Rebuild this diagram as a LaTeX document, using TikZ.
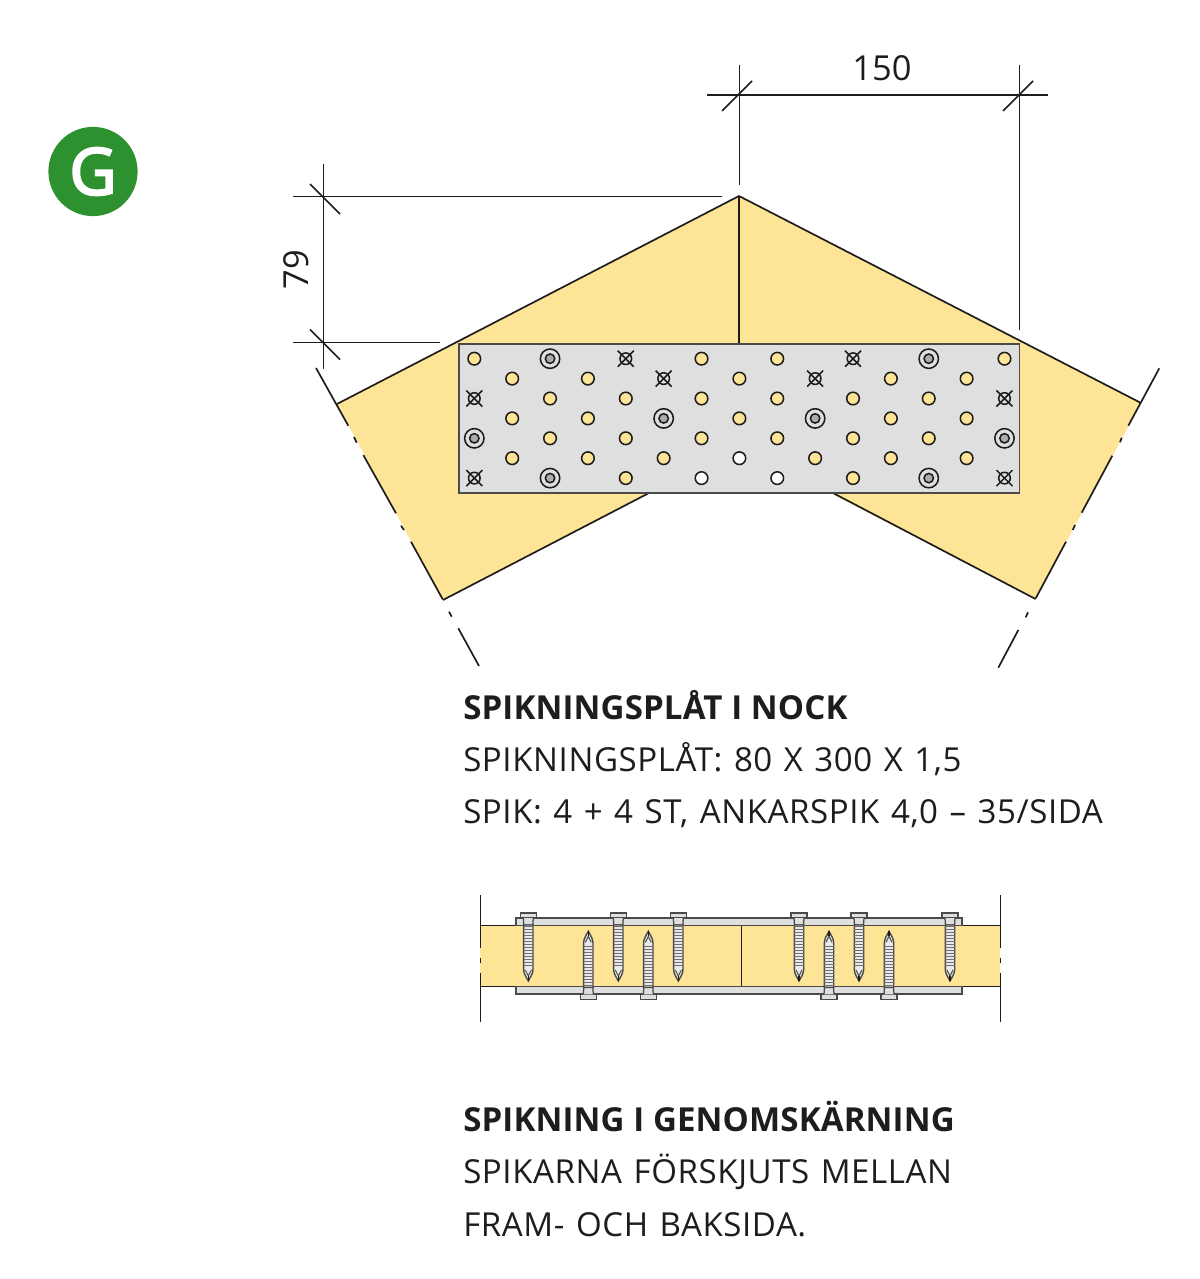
\documentclass[tikz,border=0pt]{standalone}
\usepackage{fontspec}
\usetikzlibrary{calc}
\setmainfont{Open Sans}
\newfontfamily\labelfont[LetterSpace=1.8,WordSpace=1.25]{Open Sans}
\newfontfamily\headfont[LetterSpace=0.4]{Open Sans}
\newfontface\badgefont[FakeBold=3.5]{Open Sans}
\definecolor{woodyellow}{HTML}{FEE497}
\definecolor{platefill}{HTML}{DFDFDF}
\definecolor{darkink}{HTML}{1D1D1B}
\definecolor{platerim}{HTML}{4A4A48}
\definecolor{badgegreen}{HTML}{2E9130}
\tikzset{
    line/.style={draw=darkink,line width=1.2pt},
    holeline/.style={draw=darkink,line width=1.1pt},
    textline/.style={anchor=base west,inner sep=0pt,text=darkink,font=\fontsize{23.5}{28}\labelfont},
    headline/.style={anchor=base west,inner sep=0pt,text=darkink,font=\fontsize{23.5}{28}\headfont\bfseries},
    dimlabel/.style={inner sep=0pt,text=darkink,font=\fontsize{24.5}{28}\selectfont},
    screw/.pic={
        \draw[draw=platerim,fill=platefill,line width=0.9pt] (-8,0) rectangle (8,5);
        \draw[draw=platerim,fill=platefill,line width=0.9pt] (-5,5) -- (-4.5,12) -- (4.5,12) -- (5,5);
        \draw[draw=platerim,fill=platefill!70!white,line width=1pt] (-4.7,12) -- (-4.7,56)
            .. controls (-4.7,61) and (-2,64) .. (0,68) .. controls (2,64) and (4.7,61) .. (4.7,56) -- (4.7,12) -- cycle;
        \foreach \y in {13.5,16.5,...,55}
            \draw[draw=platerim!80!white,line width=0.85pt] (-4.7,\y) -- (4.7,\y);
        \draw[draw=platerim,line width=0.7pt] (-3,57) -- (0,63) -- (3,57);
        \draw[draw=darkink,line width=0.9pt] (0,63) -- (0,68);
    }
}
\newcommand{\holex}[1]{{474.3+37.87*#1}}
\newcommand{\holey}[1]{{358.7+19.9*#1}}

\begin{document}
\begin{tikzpicture}[x=0.025cm,y=-0.025cm]
    \useasboundingbox (0,0) rectangle (1200,1279);

    % badge
    \node[circle,fill=badgegreen,minimum size=2.23cm,inner sep=0pt,text=white,font=\fontsize{46}{46}\badgefont] (badge) at (93,171.5) {G};

    % timber
    \fill[woodyellow] (739,196) -- (337,404) -- (443,600) -- (739,446) -- cycle;
    \fill[woodyellow] (739,196) -- (1141,403) -- (1035.5,599) -- (739,446) -- cycle;
    \draw[line] (739,196) -- (337,404);
    \draw[line] (443,600) -- (649,493);
    \draw[line] (739,196) -- (1141,403);
    \draw[line] (1035.5,599) -- (833,493);
    \draw[line] (739,196) -- (739,344);

    % break lines
    \draw[line] (316,368) -- (348.3,425.7);
    \draw[line] (354,437) -- (356.7,442.7);
    \draw[line] (363.3,455) -- (396,513.3);
    \draw[line] (401,525.7) -- (404,530);
    \draw[line] (411,541.7) -- (442.7,599.3);
    \draw[line] (449,611.7) -- (451.7,616.7);
    \draw[line] (458.3,628.3) -- (479,666);

    \draw[line] (1159.3,368.3) -- (1128.3,425.7);
    \draw[line] (1121.7,437.7) -- (1120,442.3);
    \draw[line] (1112.3,455.7) -- (1081.7,512.7);
    \draw[line] (1075,525) -- (1072.7,530);
    \draw[line] (1066,541.7) -- (1035.7,598.3);
    \draw[line] (1028,612.3) -- (1025.7,617.3);
    \draw[line] (1018.3,630) -- (998.3,667.7);

    % dimensions
    \draw[line] (707,95) -- (1048,95);
    \draw[line] (739.5,65) -- (739.5,185);
    \draw[line] (1019.5,65) -- (1019.5,330);
    \draw[line] (722,111) -- (752,81);
    \draw[line] (1003,111) -- (1033,81);
    \node[dimlabel] (width) at (882,68) {150};

    \draw[line] (323.5,164) -- (323.5,369);
    \draw[line] (293,196.5) -- (722,196.5);
    \draw[line] (293,342.5) -- (440,342.5);
    \draw[line] (310,184) -- (340,214);
    \draw[line] (310,329.5) -- (340,359.5);
    \node[dimlabel,rotate=90] (height) at (296,270) {79};

    % plate
    \draw[draw=platerim,fill=platefill,line width=1.2pt] (459,344) rectangle (1019.5,493);
    \foreach \i/\j in {0/0,6/0,8/0,14/0,1/1,3/1,7/1,11/1,13/1,2/2,4/2,6/2,8/2,10/2,12/2,
                       1/3,3/3,7/3,11/3,13/3,2/4,4/4,6/4,8/4,10/4,12/4,
                       1/5,3/5,5/5,9/5,11/5,13/5,4/6,10/6}
        \draw[holeline,fill=woodyellow] (\holex{\i},\holey{\j}) circle (6.3);
    \foreach \i/\j in {7/5,6/6,8/6}
        \draw[holeline,fill=white] (\holex{\i},\holey{\j}) circle (6.3);
    \foreach \i/\j in {2/0,12/0,5/3,9/3,0/4,14/4,2/6,12/6} {
        \draw[holeline,fill=platefill] (\holex{\i},\holey{\j}) circle (9.7);
        \draw[holeline,fill=gray!65] (\holex{\i},\holey{\j}) circle (4.7);
    }
    \foreach \i/\j in {4/0,10/0,5/1,9/1,0/2,14/2,0/6,14/6} {
        \draw[holeline] (\holex{\i},\holey{\j}) circle (5.8);
        \draw[holeline] ($(\holex{\i},\holey{\j})+(-8,-8)$) -- ($(\holex{\i},\holey{\j})+(8,8)$);
        \draw[holeline] ($(\holex{\i},\holey{\j})+(-8,8)$) -- ($(\holex{\i},\holey{\j})+(8,-8)$);
    }

    % texts
    \node[headline] (nocktitle) at (463,719) {SPIKNINGSPLÅT I NOCK};
    \node[textline] (nockplate) at (463,771) {SPIKNINGSPLÅT: 80 X 300 X 1,5};
    \node[textline] (nocknails) at (463,823) {SPIK: 4 + 4 ST, ANKARSPIK 4,0 – 35/SIDA};
    \node[headline] (cuttitle) at (463,1131) {SPIKNING I GENOMSKÄRNING};
    \node[textline] (cutfirst) at (463,1183) {SPIKARNA FÖRSKJUTS MELLAN};
    \node[textline] (cutsecond) at (463,1236) {FRAM- OCH BAKSIDA.};

    % section
    \fill[woodyellow] (480,925.5) rectangle (1000.4,986.5);
    \draw[line] (480,925.5) -- (1000.4,925.5);
    \draw[line] (480,986.5) -- (1000.4,986.5);
    \draw[line] (741.5,925.5) -- (741.5,986.5);
    \draw[draw=platerim,fill=platefill,line width=1.2pt] (516,918) rectangle (962,925.5);
    \draw[draw=platerim,fill=platefill,line width=1.2pt] (516,986.5) rectangle (962,994);

    \draw[line] (480.5,895) -- (480.5,948);
    \draw[line] (480.5,958) -- (480.5,963);
    \draw[line] (480.5,973) -- (480.5,1022);
    \draw[line] (1000.5,895) -- (1000.5,948);
    \draw[line] (1000.5,958) -- (1000.5,963);
    \draw[line] (1000.5,973) -- (1000.5,1022);

    \foreach \x in {528.3,618.3,678.3,799,859,950}
        \pic at (\x,913) {screw};
    \foreach \x in {588.3,648.3,829,889}
        \pic[yscale=-1] at (\x,999.3) {screw};
\end{tikzpicture}
\end{document}
